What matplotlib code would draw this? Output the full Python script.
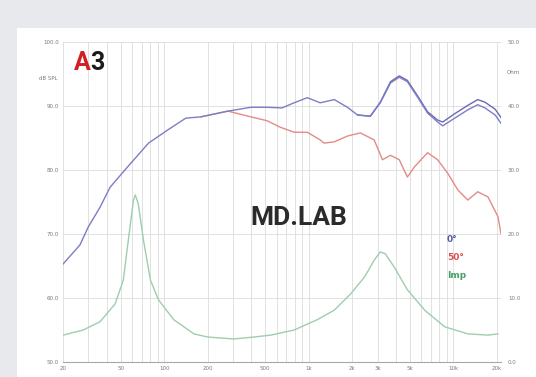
import numpy as np
import matplotlib.pyplot as plt
from matplotlib.patches import Rectangle

# on-axis SPL (0 deg), dB
freq_0 = [20, 26.2, 29.9, 36.1, 42.3, 55, 78, 105, 141, 179, 276, 398, 514, 652, 792, 976,
          1198, 1500, 1848, 2170, 2660, 3120, 3670, 4220, 4800, 5640, 6620, 7770, 8420,
          10200, 12560, 14700, 16500, 19400, 21300]
spl_0 = [65.3, 68.3, 71.1, 74.2, 77.3, 80.3, 84.2, 86.2, 88.1, 88.3, 89.2, 89.8, 89.8, 89.7,
         90.5, 91.3, 90.5, 91.0, 89.8, 88.6, 88.4, 90.5, 93.6, 94.5, 93.8, 91.4, 88.9, 87.5,
         86.9, 88.1, 89.4, 90.2, 89.7, 88.6, 87.3]

# second on-axis trace, spreads apart in the top octaves
freq_0b = [2170, 2660, 3120, 3670, 4220, 4800, 5640, 6620, 7770, 8420, 10200, 12560, 14700,
           16500, 19400, 21300]
spl_0b = [88.6, 88.4, 90.6, 93.8, 94.7, 94.0, 91.6, 89.1, 87.8, 87.5, 88.8, 90.1, 91.0,
          90.6, 89.5, 88.2]

# off-axis SPL (50 deg), dB
freq_50 = [179, 276, 398, 514, 632, 792, 976, 1198, 1276, 1500, 1848, 2270, 2830, 3230,
           3670, 4220, 4800, 5380, 6620, 7770, 9120, 10700, 12560, 14700, 17300, 20300, 21300]
spl_50 = [88.3, 89.2, 88.3, 87.7, 86.7, 85.9, 85.9, 84.7, 84.2, 84.4, 85.3, 85.8, 84.7, 81.6,
          82.3, 81.6, 78.9, 80.5, 82.7, 81.6, 79.5, 76.9, 75.3, 76.6, 75.8, 72.7, 70.0]

# impedance, ohm
freq_imp = [20, 27.6, 36.1, 45.9, 52.2, 56.6, 61.4, 63.2, 66.3, 71.9, 80.4, 91.5, 116.6,
            160.6, 200, 303, 417, 546, 792, 1142, 1500, 1940, 2430, 2830, 3120, 3380, 3900,
            4800, 6320, 8690, 12560, 17300, 20300]
imp = [4.2, 5.0, 6.3, 9.1, 12.8, 19.1, 25.3, 26.1, 24.7, 19.1, 12.8, 9.7, 6.6, 4.4, 3.9, 3.6,
       3.9, 4.2, 5.0, 6.6, 8.1, 10.6, 13.3, 15.9, 17.2, 16.9, 14.8, 11.3, 8.1, 5.5, 4.4, 4.2, 4.4]

xticks = [20, 50, 100, 200, 500, 1000, 2000, 3000, 5000, 10000, 20000]
xtick_labels = ['20', '50', '100', '200', '500', '1k', '2k', '3k', '5k', '10k', '20k']
spl_ticks = [50, 60, 70, 80, 90, 100]
ohm_ticks = [0, 10, 20, 30, 40, 50]

W, H = 536, 377
fig = plt.figure(figsize=(W / 100, H / 100), dpi=100)
fig.patch.set_facecolor('#e8e9ed')
fig.patches.append(Rectangle((17 / W, 0), 1 - 17 / W, 1 - 28 / H, transform=fig.transFigure,
                             facecolor='white', edgecolor='none', zorder=-10))

ax = fig.add_axes([63 / W, 15 / H, 438 / W, 320 / H])
ax.set_facecolor('none')
ax.set_xscale('log')
ax.set_xlim(20, 21300)
ax.set_ylim(50, 100)

grid_c = '#dcdcdc'
for d in [10, 100, 1000, 10000]:
    for m in range(1, 10):
        f = d * m
        if 20 <= f <= 20000:
            ax.axvline(f, color=grid_c, lw=0.6, zorder=1)
for v in spl_ticks[1:]:
    ax.axhline(v, color=grid_c, lw=0.6, zorder=1)

ax.plot(freq_50, spl_50, color='#e38b88', lw=1.0, zorder=3)
ax.plot(freq_0b, spl_0b, color='#6a6ab4', lw=1.0, zorder=4)
ax.plot(freq_0, spl_0, color='#7d7dc6', lw=1.0, zorder=4)

ax.set_xticks(xticks)
ax.set_xticklabels(xtick_labels)
ax.xaxis.set_minor_locator(plt.NullLocator())
ax.set_yticks(spl_ticks)
ax.set_yticklabels([f'{v:.1f}' for v in spl_ticks])
ax.tick_params(length=0, labelsize=4, colors='#7a7a7a', pad=3)
for s in ['left', 'right', 'top']:
    ax.spines[s].set_visible(False)
ax.spines['bottom'].set_color('#a8a8a8')
ax.spines['bottom'].set_linewidth(0.8)

ax2 = ax.twinx()
ax2.set_ylim(0, 50)
ax2.plot(freq_imp, imp, color='#9fcdae', lw=1.0, zorder=3)
ax2.set_yticks(ohm_ticks)
ax2.set_yticklabels([f'{v:.1f}' for v in ohm_ticks])
ax2.tick_params(length=0, labelsize=4, colors='#7a7a7a', pad=5)
for s in ax2.spines.values():
    s.set_visible(False)

fig.text(58 / W, 1 - 79 / H, 'dB SPL', ha='right', va='center', fontsize=4, color='#7a7a7a')
fig.text(507 / W, 1 - 72 / H, 'Ohm', ha='left', va='center', fontsize=4, color='#7a7a7a')

# logo and lab mark
fig.text(74 / W, 1 - 63 / H, 'A', ha='left', va='center', fontsize=18, fontweight='bold',
         family='Roboto', color='#d21f26')
fig.text(90 / W, 1 - 63 / H, '3', ha='left', va='center', fontsize=18, fontweight='bold',
         family='Roboto', color='#1c1c1c')
fig.text(250 / W, 1 - 218 / H, 'MD.LAB', ha='left', va='center', fontsize=19,
         fontweight='bold', family='Roboto', color='#2b2b2b')

# legend labels
fig.text(447 / W, 1 - 239 / H, '0°', ha='left', va='center', fontsize=6.5,
         fontweight='bold', color='#5a5aaa')
fig.text(447 / W, 1 - 257 / H, '50°', ha='left', va='center', fontsize=6.5,
         fontweight='bold', color='#d85050')
fig.text(447 / W, 1 - 276 / H, 'Imp', ha='left', va='center', fontsize=6.5,
         fontweight='bold', color='#45a068')

fig.savefig('out.png', dpi=100)
